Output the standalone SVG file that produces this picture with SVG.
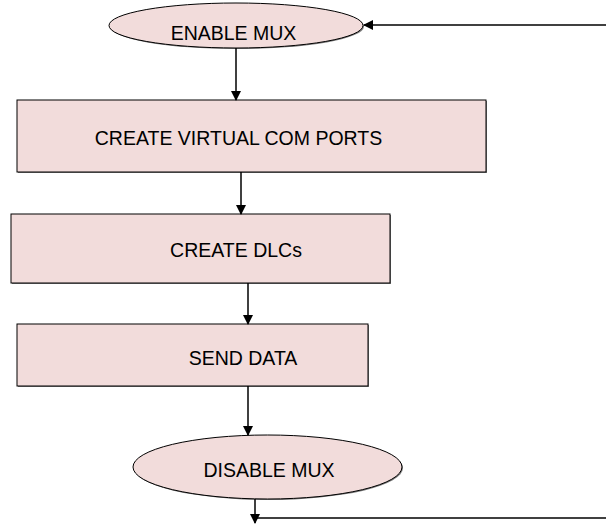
<svg xmlns="http://www.w3.org/2000/svg" width="606" height="524" viewBox="0 0 606 524">
<defs>
<marker id="ah" markerWidth="10" markerHeight="10" refX="9" refY="5" orient="auto" markerUnits="userSpaceOnUse">
<path d="M0,0 L10,5 L0,10 Z" fill="#000"/>
</marker>
<style>
.sh{fill:#7f7f7f}
.nd{fill:#f2dcdb;stroke:#000;stroke-width:1}
.t{font-family:"Liberation Sans",Arial,sans-serif;font-size:19.5px;fill:#000;text-anchor:middle}
.c{stroke:#000;stroke-width:1.5;fill:none}
</style>
</defs>
<rect width="606" height="524" fill="#fff"/>
<g id="n1">
<ellipse class="sh" cx="237" cy="26.5" rx="127" ry="22.5"/>
<ellipse class="nd" cx="236" cy="25.5" rx="127" ry="22.5"/>
<text class="t" x="233.5" y="40">ENABLE MUX</text>
</g>
<g id="n2">
<rect class="sh" x="18" y="101" width="469" height="72"/>
<rect class="nd" x="17" y="100" width="469" height="72"/>
<text class="t" x="238.5" y="145">CREATE VIRTUAL COM PORTS</text>
</g>
<g id="n3">
<rect class="sh" x="12" y="215" width="379" height="69"/>
<rect class="nd" x="11" y="214" width="379" height="69"/>
<text class="t" x="236" y="257">CREATE DLCs</text>
</g>
<g id="n4">
<rect class="sh" x="18" y="325" width="351" height="62"/>
<rect class="nd" x="17" y="324" width="351" height="62"/>
<text class="t" x="243" y="365">SEND DATA</text>
</g>
<g id="n5">
<ellipse class="sh" cx="268.5" cy="468" rx="134.5" ry="32"/>
<ellipse class="nd" cx="267.5" cy="467" rx="134.5" ry="32"/>
<text class="t" x="269" y="477">DISABLE MUX</text>
</g>
<g id="connectors">
<line class="c" x1="236" y1="48" x2="236" y2="100" marker-end="url(#ah)"/>
<line class="c" x1="241" y1="172" x2="241" y2="214" marker-end="url(#ah)"/>
<line class="c" x1="248" y1="283" x2="248" y2="324" marker-end="url(#ah)"/>
<line class="c" x1="248" y1="386" x2="248" y2="435" marker-end="url(#ah)"/>
<line class="c" x1="255" y1="499" x2="255" y2="523" marker-end="url(#ah)"/>
<line class="c" x1="255" y1="518" x2="606" y2="518"/>
<line class="c" x1="606" y1="25" x2="364" y2="25" marker-end="url(#ah)"/>
</g>
</svg>
